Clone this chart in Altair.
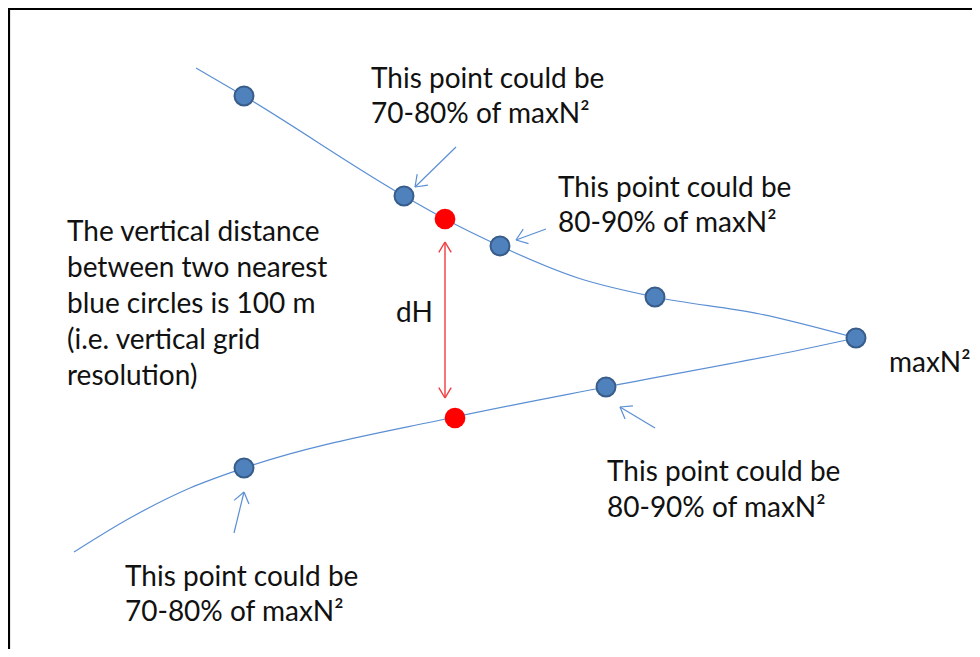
import altair as alt
import numpy as np
import pandas as pd

# ---- data (diagram units = pixels of the sketch) ----
upper_x = [196, 244, 404, 445, 500, 578, 655, 760, 856]
upper_y = [68, 96, 196, 219, 246, 278, 297, 314, 338]
lower_x = [74, 130, 190, 244, 455, 606, 800, 856]
lower_y = [552, 518, 488, 468, 417, 387, 350, 338]

blue_x = [244, 404, 500, 655, 856, 606, 244]
blue_y = [96, 196, 246, 297, 338, 387, 468]
red_x = [445, 455]
red_y = [219, 418]

# annotation arrows: tail -> tip
arrow_tail_x = [456, 546, 655, 234]
arrow_tail_y = [147, 229, 428, 533]
arrow_tip_x = [415, 516, 620, 244]
arrow_tip_y = [187, 240, 407, 492]

# dH double arrow
dh_x = [445, 445]
dh_y = [242, 398]

text_lines = [
    "This point could be", "70-80% of maxN²",
    "This point could be", "80-90% of maxN²",
    "The vertical distance", "between two nearest", "blue circles is 100 m",
    "(i.e. vertical grid", "resolution)",
    "dH", "maxN²",
    "This point could be", "80-90% of maxN²",
    "This point could be", "70-80% of maxN²",
]
text_x = [371, 371, 558, 558, 67, 67, 67, 67, 67, 396, 889, 607, 607, 125, 125]
text_y = [88, 123, 197, 232, 241, 277, 313, 349, 385, 322, 372, 481, 517, 586, 621]


def heads(tx, ty, fx, fy, length, half_angle):
    """Two arm segments of an open arrowhead at (tx, ty), arrow coming from (fx, fy)."""
    v = np.array([fx - tx, fy - ty], dtype=float)
    v /= np.linalg.norm(v)
    rows = []
    for s in (1, -1):
        a = np.radians(half_angle) * s
        r = np.array([v[0] * np.cos(a) - v[1] * np.sin(a), v[0] * np.sin(a) + v[1] * np.cos(a)])
        rows.append(dict(x=tx, y=ty, x2=tx + length * r[0], y2=ty + length * r[1]))
    return rows


blue_seg = []
for tx0, ty0, hx, hy in zip(arrow_tail_x, arrow_tail_y, arrow_tip_x, arrow_tip_y):
    blue_seg.append(dict(x=tx0, y=ty0, x2=hx, y2=hy))
    blue_seg += heads(hx, hy, tx0, ty0, 13, 36)
blue_seg = pd.DataFrame(blue_seg)

red_seg = [dict(x=dh_x[0], y=dh_y[0], x2=dh_x[1], y2=dh_y[1])]
red_seg += heads(dh_x[0], dh_y[0], dh_x[1], dh_y[1], 12, 31)
red_seg += heads(dh_x[1], dh_y[1], dh_x[0], dh_y[0], 12, 31)
red_seg = pd.DataFrame(red_seg)

curves = pd.DataFrame(
    dict(x=upper_x + lower_x, y=upper_y + lower_y,
         branch=["upper"] * len(upper_x) + ["lower"] * len(lower_x))
)
blue = pd.DataFrame(dict(x=blue_x, y=blue_y))
red = pd.DataFrame(dict(x=red_x, y=red_y))
texts = pd.DataFrame(dict(x=text_x, y=text_y, t=text_lines))

W, H = 964, 641
xs = alt.Scale(domain=[8, 8 + W], nice=False, zero=False)
ys = alt.Scale(domain=[8 + H, 8], nice=False, zero=False)
X = lambda f="x": alt.X(f, type="quantitative", scale=xs, axis=None)
Y = lambda f="y": alt.Y(f, type="quantitative", scale=ys, axis=None)

border = pd.DataFrame(dict(x=[8, 9], y=[9, 8], x2=[8 + W, 9], y2=[9, 8 + H]))
border_layer = alt.Chart(border).mark_rule(color="black", strokeWidth=2.2).encode(
    x=X(), y=Y(), x2="x2:Q", y2="y2:Q")

line_layer = alt.Chart(curves).mark_line(
    color="#5B8FD3", strokeWidth=1.2, interpolate="monotone"
).encode(x=X(), y=Y(), detail="branch:N")

blue_arrows = alt.Chart(blue_seg).mark_rule(color="#5B8FD3", strokeWidth=1.2).encode(
    x=X(), y=Y(), x2="x2:Q", y2="y2:Q")

red_arrows = alt.Chart(red_seg).mark_rule(color="#F03C3C", strokeWidth=1.4).encode(
    x=X(), y=Y(), x2="x2:Q", y2="y2:Q")

blue_pts = alt.Chart(blue).mark_point(
    shape="circle", filled=True, fill="#4F81BD", stroke="#385D8A",
    strokeWidth=2, size=360, opacity=1
).encode(x=X(), y=Y())

red_pts = alt.Chart(red).mark_point(
    shape="circle", filled=True, fill="#FF0000", strokeWidth=0, size=430, opacity=1
).encode(x=X(), y=Y())

text_layer = alt.Chart(texts).mark_text(
    align="left", baseline="alphabetic", font="Lato", fontSize=28, color="#111111"
).encode(x=X(), y=Y(), text="t:N")

chart = alt.layer(
    border_layer, line_layer, blue_arrows, red_arrows, blue_pts, red_pts, text_layer
).properties(
    width=W, height=H, padding=0, autosize=alt.AutoSizeParams(type="none")
).configure_view(stroke=None).configure(background="white")

chart.save("out.html", embed_options={"renderer": "svg", "actions": False})
